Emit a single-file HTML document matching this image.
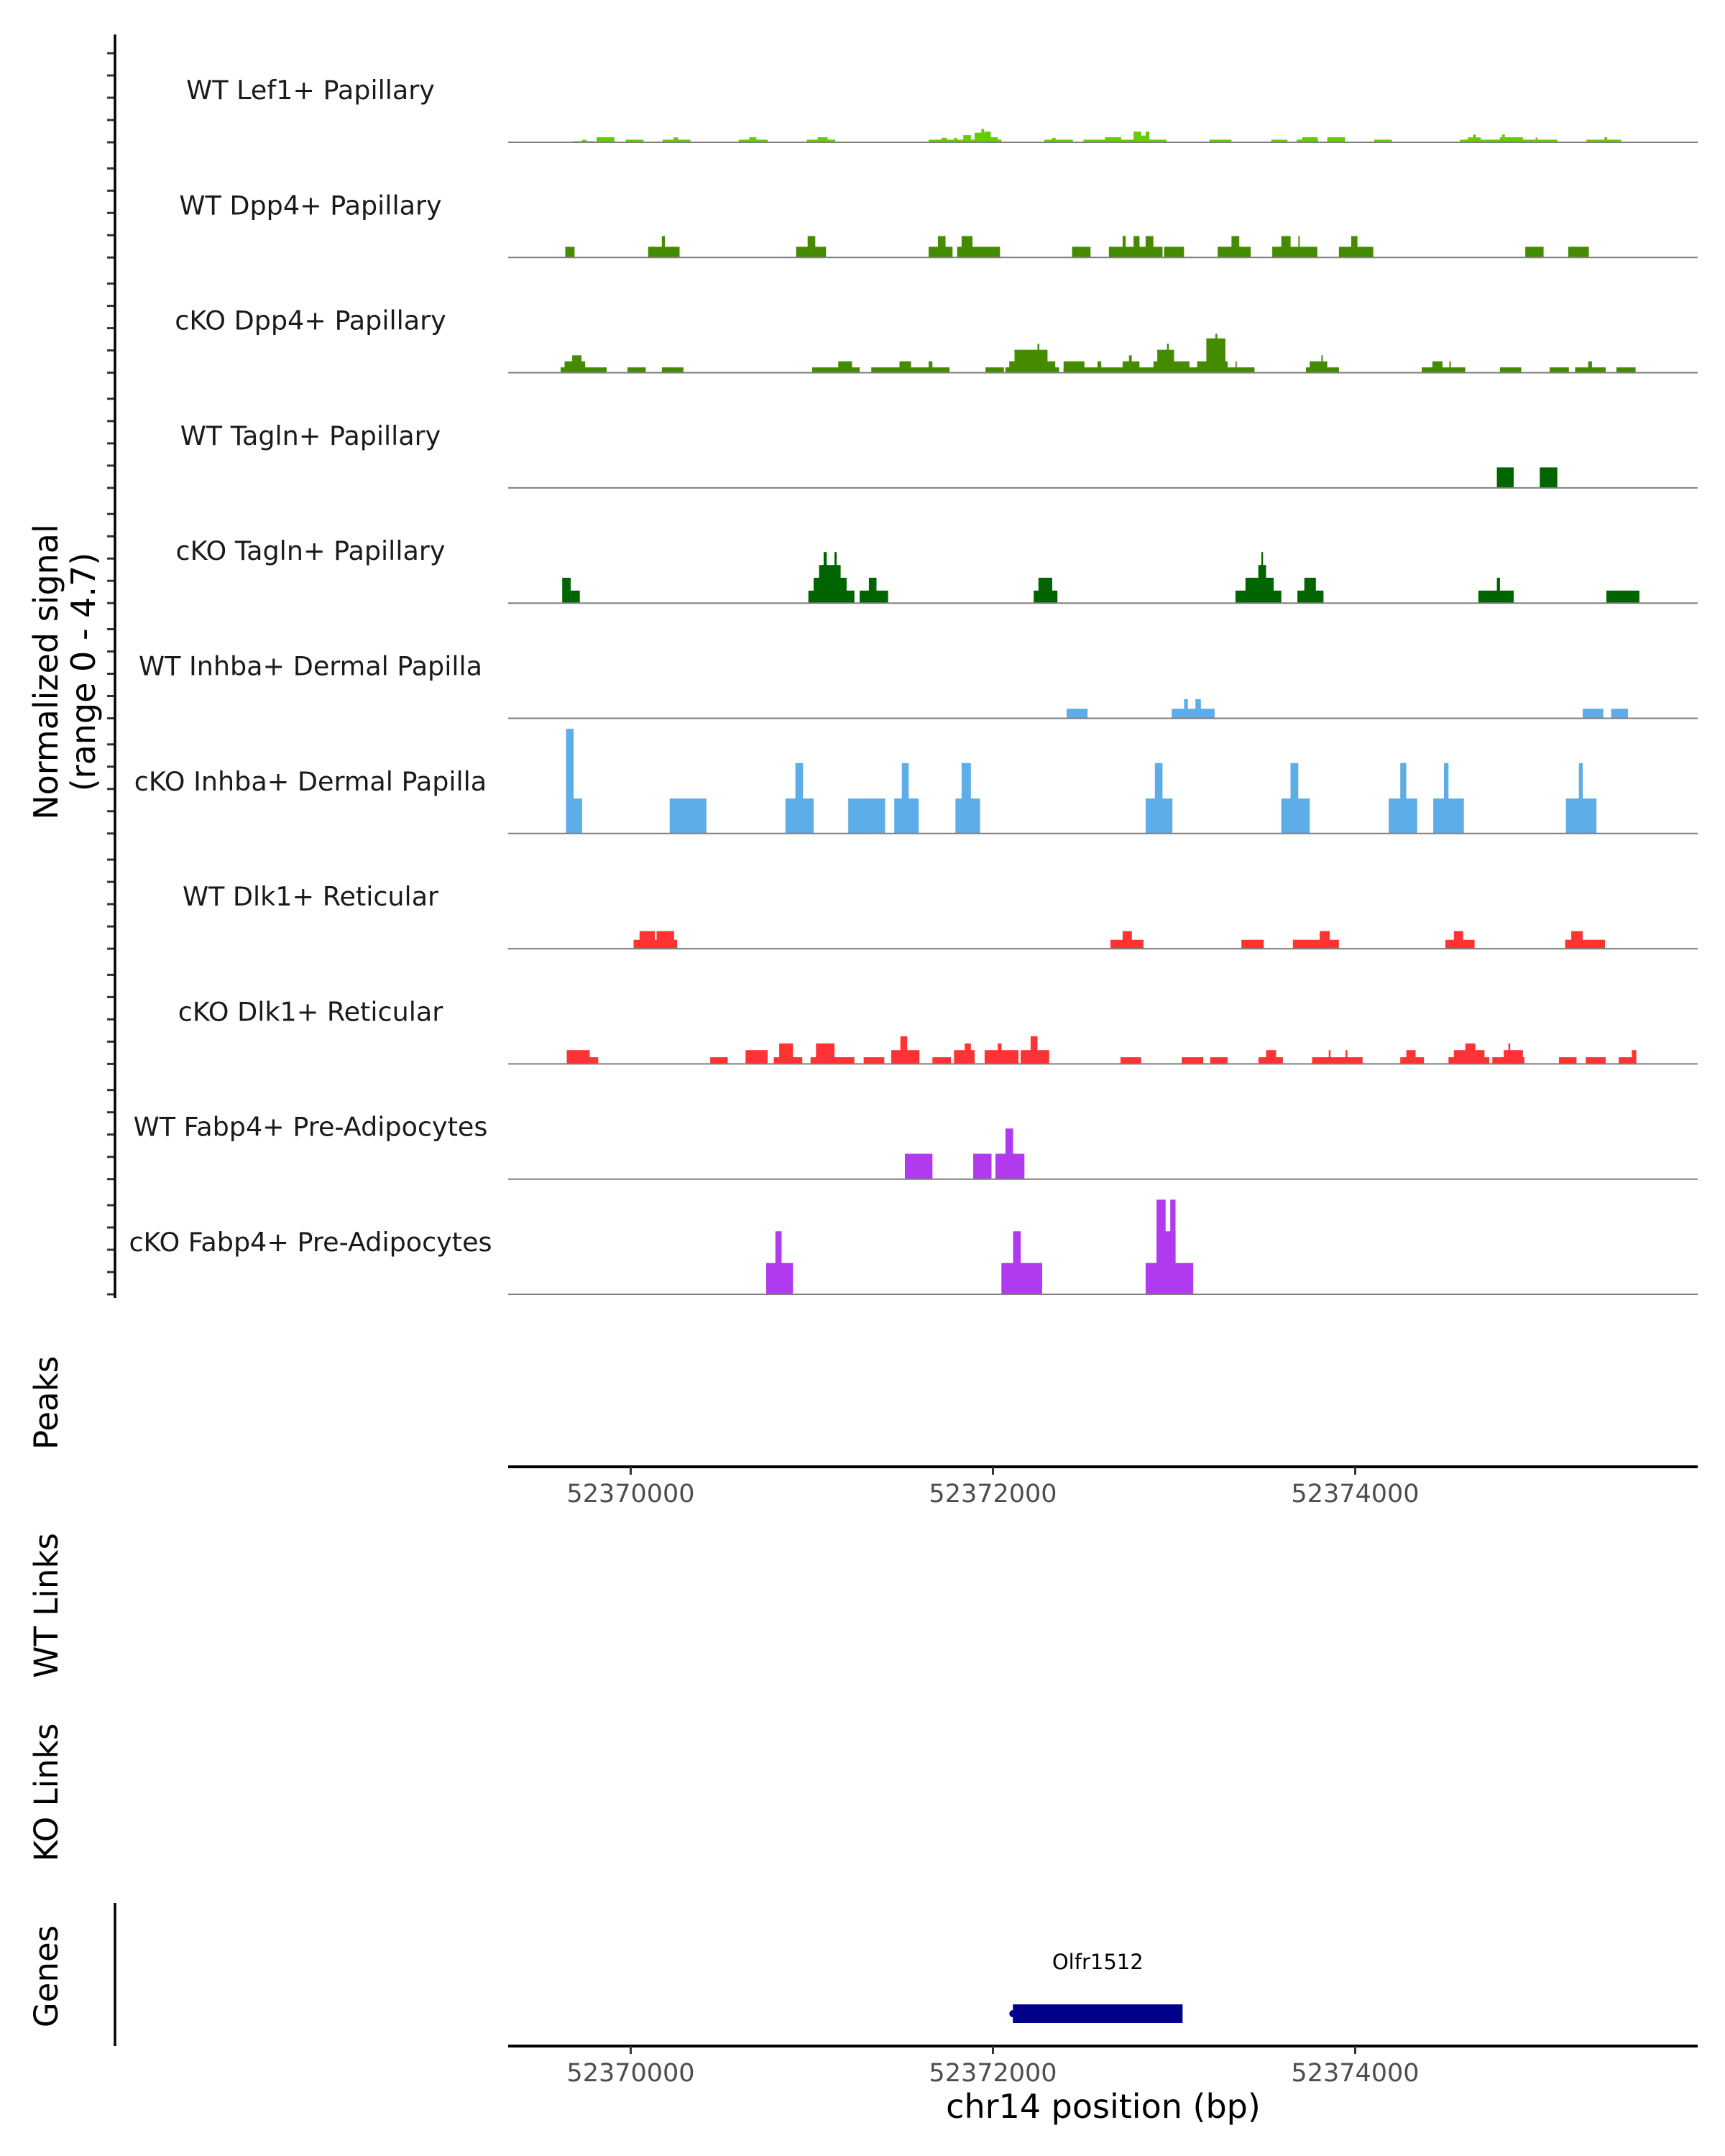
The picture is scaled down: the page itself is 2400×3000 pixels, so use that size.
<!DOCTYPE html>
<html><head><meta charset="utf-8">
<style>
html,body{margin:0;padding:0;background:#fff;}
svg{display:block;font-family:"DejaVu Sans","Liberation Sans",sans-serif;}
</style></head>
<body>
<svg id="fig" width="2400" height="3000" viewBox="0 0 2400 3000" xmlns="http://www.w3.org/2000/svg">
<rect x="0" y="0" width="2400" height="3000" fill="#fff"/>
<g id="tracks"></g>
<g id="axes"></g>
</svg>
<script>
const regionStart = 52369296;
const trackNames = ["WT Lef1+ Papillary","WT Dpp4+ Papillary","cKO Dpp4+ Papillary","WT Tagln+ Papillary","cKO Tagln+ Papillary","WT Inhba+ Dermal Papilla","cKO Inhba+ Dermal Papilla","WT Dlk1+ Reticular","cKO Dlk1+ Reticular","WT Fabp4+ Pre-Adipocytes","cKO Fabp4+ Pre-Adipocytes"];
const trackColors = ["#66CC00","#458B00","#458B00","#006400","#006400","#5DADE8","#5DADE8","#FF3333","#FF3333","#B23AEE","#B23AEE"];
// blocks: [startOffsetBp, endOffsetBp, signal]
const lef1WT = [[389,500,0.05],[436,460,0.11],[516,614,0.23],[677,775,0.12],[880,1033,0.12],[940,965,0.22],[1300,1460,0.12],[1359,1397,0.23],[1676,1833,0.12],[1736,1791,0.23],[2349,2751,0.12],[2420,2450,0.2],[2490,2505,0.2],[2540,2582,0.32],[2603,2692,0.43],[2640,2655,0.6],[2658,2692,0.48],[2692,2730,0.23],[2988,3145,0.12],[3030,3050,0.2],[3204,3662,0.12],[3323,3412,0.23],[3480,3522,0.48],[3522,3547,0.3],[3547,3568,0.48],[3899,4021,0.12],[4241,4330,0.12],[4381,4500,0.12],[4411,4495,0.23],[4550,4648,0.23],[4809,4906,0.12],[5283,5820,0.12],[5325,5397,0.22],[5355,5370,0.35],[5503,5630,0.23],[5515,5530,0.35],[5700,5710,0.22],[5981,6172,0.12],[6080,6095,0.23]];
const dpp4WT = [[343,394,0.48],[800,974,0.48],[876,893,0.96],[1617,1782,0.48],[1681,1723,0.96],[2349,2481,0.48],[2400,2442,0.96],[2506,2743,0.48],[2531,2591,0.96],[3141,3243,0.48],[3344,3640,0.48],[3420,3437,0.96],[3480,3513,0.96],[3547,3590,0.96],[3649,3759,0.48],[3945,4127,0.48],[4021,4064,0.96],[4246,4495,0.48],[4296,4347,0.96],[4390,4398,0.96],[4614,4804,0.48],[4682,4716,0.96],[5643,5744,0.48],[5880,5994,0.48]];
const dpp4KO = [[317,571,0.24],[339,453,0.51],[381,432,0.78],[686,787,0.24],[876,995,0.24],[1706,1968,0.24],[1850,1926,0.51],[2032,2464,0.24],[2188,2252,0.51],[2349,2370,0.51],[2663,2764,0.24],[2773,3069,0.24],[2794,3048,0.51],[2823,3005,1.03],[2950,2960,1.3],[3094,4148,0.24],[3094,3209,0.51],[3281,3302,0.51],[3420,3513,0.51],[3455,3470,0.78],[3590,3789,0.51],[3611,3704,1.03],[3665,3675,1.3],[3831,4000,0.51],[3882,3987,1.54],[3932,3942,1.75],[4043,4050,0.51],[4432,4614,0.24],[4453,4550,0.51],[4517,4525,0.78],[5071,5312,0.24],[5130,5186,0.51],[5224,5232,0.51],[5503,5621,0.24],[5778,5884,0.24],[5918,6087,0.24],[5990,6011,0.51],[6146,6252,0.24]];
const taglnWT = [[5486,5579,0.92],[5723,5820,0.92]];
const taglnKO = [[326,373,1.14],[373,423,0.56],[1685,1939,0.56],[1714,1896,1.14],[1744,1863,1.71],[1769,1786,2.29],[1829,1841,2.29],[1968,2125,0.56],[2019,2061,1.14],[2929,3060,0.56],[2955,3031,1.14],[4043,4296,0.56],[4098,4254,1.14],[4169,4212,1.71],[4186,4195,2.29],[4385,4529,0.56],[4423,4487,1.14],[5384,5579,0.56],[5486,5503,1.14],[6091,6273,0.56]];
const inhbaWT = [[3111,3226,0.43],[3691,3928,0.43],[3759,3780,0.86],[3822,3852,0.86],[5960,6074,0.43],[6117,6210,0.43]];
const inhbaKO = [[347,436,1.57],[347,389,4.7],[919,1122,1.57],[1558,1714,1.57],[1613,1655,3.16],[1905,2108,1.57],[2159,2294,1.57],[2201,2239,3.16],[2497,2633,1.57],[2531,2582,3.16],[3547,3695,1.57],[3598,3640,3.16],[4296,4453,1.57],[4347,4390,3.16],[4889,5046,1.57],[4953,4986,3.16],[5135,5304,1.57],[5194,5219,3.16],[5867,6036,1.57],[5939,5960,3.16]];
const dlk1WT = [[720,961,0.4],[753,838,0.79],[847,944,0.79],[3353,3535,0.4],[3420,3471,0.79],[4076,4199,0.4],[4360,4614,0.4],[4508,4563,0.79],[5202,5363,0.4],[5249,5300,0.79],[5863,6083,0.4],[5897,5960,0.79]];
const dlk1KO = [[351,478,0.62],[478,525,0.3],[1143,1240,0.3],[1338,1460,0.62],[1494,1651,0.3],[1524,1600,0.92],[1697,1939,0.3],[1727,1829,0.92],[1990,2104,0.3],[2142,2298,0.62],[2193,2231,1.24],[2370,2472,0.3],[2489,2603,0.62],[2548,2582,0.92],[2658,2845,0.62],[2730,2751,0.92],[2857,3014,0.62],[2912,2950,1.24],[3408,3522,0.3],[3746,3865,0.3],[3903,4000,0.3],[4170,4305,0.3],[4212,4267,0.62],[4466,4745,0.3],[4558,4568,0.62],[4651,4661,0.62],[4953,5084,0.3],[4986,5037,0.62],[5219,5444,0.3],[5249,5418,0.62],[5312,5367,0.92],[5461,5638,0.3],[5524,5630,0.62],[5550,5560,0.92],[5829,5926,0.3],[5977,6087,0.3],[6159,6256,0.3],[6231,6256,0.62]];
const fabp4WT = [[2218,2370,1.14],[2595,2696,1.14],[2718,2878,1.14],[2773,2815,2.27]];
const fabp4KO = [[1452,1600,1.41],[1503,1537,2.83],[2751,2976,1.41],[2815,2857,2.83],[3547,3810,1.41],[3607,3712,2.83],[3607,3657,4.25],[3683,3712,4.25]];
const trackData = [lef1WT,dpp4WT,dpp4KO,taglnWT,taglnKO,inhbaWT,inhbaKO,dlk1WT,dlk1KO,fabp4WT,fabp4KO];
const xTicks = [52370000,52372000,52374000];
const signalTicks = [0,1,2,3,4];
const gene = {name:"Olfr1512", start:52372110, end:52373047};

const NS="http://www.w3.org/2000/svg";
const X0=707, X1=2362, refBp=52370000, refX=877.5, pxPerBp=0.252;
const xScale = bp => refX + (bp-refBp)*pxPerBp;
const base0=198, trackStep=160.3, pxPerUnit=31;
const yScale = (i,v) => base0 + i*trackStep - v*pxPerUnit;
function mk(tag, attrs, parent){const e=document.createElementNS(NS,tag);for(const k in attrs)e.setAttribute(k,attrs[k]);parent.appendChild(e);return e;}
const tracks=document.getElementById('tracks'), axes=document.getElementById('axes');

trackData.forEach((blocks,i)=>{
  const g=mk('g',{},tracks);
  
  
  const by=yScale(i,0);
  blocks.forEach(b=>{
    const xa=xScale(regionStart+b[0]), xb=xScale(regionStart+b[1]), yt=yScale(i,b[2]);
    const r=mk('rect',{x:xa.toFixed(1),y:yt.toFixed(1),width:Math.max(1,xb-xa).toFixed(1),height:(by-yt).toFixed(1),fill:trackColors[i]},g);
    
    
  });
  const bl=mk('line',{x1:X0,x2:X1,y1:by,y2:by,stroke:'#7f7f7f','stroke-width':2},g);
  
  
  const t=mk('text',{x:432,y:by-60,'text-anchor':'middle','font-size':36.5,fill:'#1a1a1a'},g);
  t.textContent=trackNames[i];
  
  
  signalTicks.forEach(v=>{
    const ty=yScale(i,v);
    const tk=mk('line',{x1:149,x2:160,y1:ty,y2:ty,stroke:'#333','stroke-width':3},axes);
    
    
  });
});
let ax=mk('line',{x1:160,x2:160,y1:48,y2:1806,stroke:'#000','stroke-width':3.5},axes);


let yt=mk('text',{transform:'translate(80,935) rotate(-90)','text-anchor':'middle','font-size':46,fill:'#000'},axes);


yt.innerHTML='<tspan x="0" dy="0">Normalized signal</tspan><tspan x="0" dy="52">(range 0 - 4.7)</tspan>';

function xAxis(y,name){
  const l=mk('line',{x1:X0,x2:X1,y1:y,y2:y,stroke:'#000','stroke-width':4},axes);
  
  
  xTicks.forEach(v=>{
    const x=xScale(v);
    const tk=mk('line',{x1:x,x2:x,y1:y,y2:y+11,stroke:'#333','stroke-width':3},axes);
    
    
    const tl=mk('text',{x:x,y:y+49,'text-anchor':'middle','font-size':35,fill:'#4d4d4d'},axes);
    tl.textContent=v;
    
    
  });
}
xAxis(2041,'peaks-x-axis');
xAxis(2847,'genes-x-axis');

const sections=[["Peaks",1952],["WT Links",2234],["KO Links",2494],["Genes",2750]];
sections.forEach(s=>{
  const t=mk('text',{transform:`translate(80,${s[1]}) rotate(-90)`,'text-anchor':'middle','font-size':45,fill:'#000'},axes);
  t.textContent=s[0];
  
  
});
let gl=mk('line',{x1:160,x2:160,y1:2648,y2:2847,stroke:'#000','stroke-width':3.5},axes);



const gx0=xScale(gene.start), gx1=xScale(gene.end);
let gb=mk('rect',{x:gx0,y:2789,width:gx1-gx0,height:26,fill:'#00008B'},axes);


let gc=mk('circle',{cx:gx0,cy:2802,r:5,fill:'#00008B'},axes);


let gt=mk('text',{x:(gx0+gx1)/2,y:2740,'text-anchor':'middle','font-size':29,fill:'#000'},axes);
gt.textContent=gene.name;


let xt=mk('text',{x:1535,y:2947,'text-anchor':'middle','font-size':46,fill:'#000'},axes);
xt.textContent='chr14 position (bp)';


</script>
</body></html>
